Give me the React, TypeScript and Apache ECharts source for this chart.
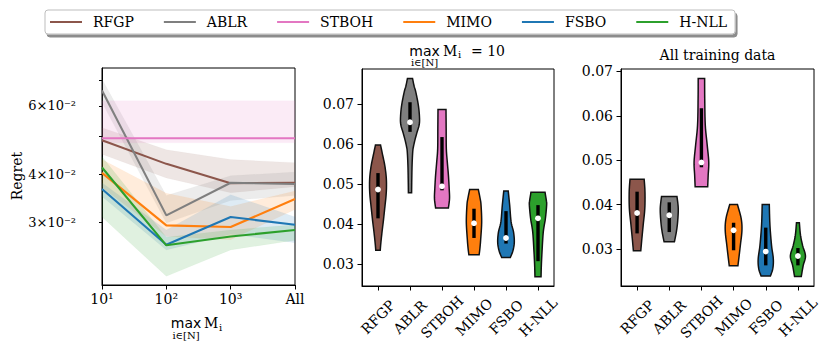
import React, { useEffect, useRef } from 'react';
import * as echarts from 'echarts';

const SERIF = 'DejaVu Serif';
const SANS = 'DejaVu Sans';

const METHODS = ['RFGP', 'ABLR', 'STBOH', 'MIMO', 'FSBO', 'H-NLL'];
const COLORS = ['#8c564b', '#7f7f7f', '#e377c2', '#ff7f0e', '#1f77b4', '#2ca02c'];

// ---------- Left panel: regret vs. max meta-dataset size ----------
const BUDGET_X = [1, 2, 3, 4];
const BUDGET_LABELS = ['10¹', '10²', '10³', 'All'];
const LEFT_Y_RANGE = [0.0207, 0.0751];
const LOG_TICK_VALUES = [0.03, 0.04, 0.05, 0.06, 0.07];
const LOG_LABEL_VALUES = [0.03, 0.04, 0.06];
const LOG_LABELS = ['3×10⁻²', '4×10⁻²', '6×10⁻²'];

const MEAN_RFGP = [0.0489, 0.0425, 0.0379, 0.038];
const LO_RFGP = [0.045, 0.0391, 0.0358, 0.0371];
const HI_RFGP = [0.0527, 0.0462, 0.0436, 0.0428];

const MEAN_ABLR = [0.0657, 0.0313, 0.038, 0.0377];
const LO_ABLR = [0.0612, 0.0299, 0.0342, 0.0352];
const HI_ABLR = [0.0703, 0.0352, 0.0396, 0.0405];

const MEAN_STBOH = [0.0495, 0.0495, 0.0495, 0.0495];
const LO_STBOH = [0.0482, 0.0482, 0.0482, 0.0482];
const HI_STBOH = [0.0618, 0.0618, 0.0618, 0.0618];

const MEAN_MIMO = [0.0403, 0.0295, 0.0292, 0.0345];
const LO_MIMO = [0.037, 0.0276, 0.0271, 0.0324];
const HI_MIMO = [0.0436, 0.0357, 0.033, 0.0362];

const MEAN_FSBO = [0.0366, 0.0263, 0.031, 0.0296];
const LO_FSBO = [0.035, 0.0255, 0.028, 0.0266];
const HI_FSBO = [0.038, 0.0287, 0.0354, 0.031];

const MEAN_HNLL = [0.0416, 0.0262, 0.0276, 0.0287];
const LO_HNLL = [0.031, 0.0218, 0.0255, 0.027];
const HI_HNLL = [0.0444, 0.0275, 0.0287, 0.0296];

const MEANS = [MEAN_RFGP, MEAN_ABLR, MEAN_STBOH, MEAN_MIMO, MEAN_FSBO, MEAN_HNLL];
const LOWS = [LO_RFGP, LO_ABLR, LO_STBOH, LO_MIMO, LO_FSBO, LO_HNLL];
const HIGHS = [HI_RFGP, HI_ABLR, HI_STBOH, HI_MIMO, HI_FSBO, HI_HNLL];

// ---------- Violin panels: [value, half width in category-band units] ----------
const VIOLIN_TICKS = [0.03, 0.04, 0.05, 0.06, 0.07];

// max M_i = 10
const M10_Y_RANGE = [0.0246, 0.0788];
const M10_RFGP = [[0.0598, 0.08], [0.0575, 0.14], [0.0548, 0.21], [0.052, 0.255], [0.0495, 0.265], [0.047, 0.25], [0.044, 0.21], [0.041, 0.17], [0.0377, 0.12], [0.035, 0.085], [0.0335, 0.07]];
const M10_ABLR = [[0.0764, 0.08], [0.0745, 0.13], [0.0731, 0.18], [0.0698, 0.26], [0.067, 0.295], [0.065, 0.29], [0.063, 0.22], [0.0614, 0.165], [0.0595, 0.11], [0.0581, 0.085], [0.0548, 0.065], [0.051, 0.055], [0.0479, 0.05]];
const M10_STBOH = [[0.0687, 0.125], [0.064, 0.13], [0.0589, 0.135], [0.0556, 0.165], [0.0523, 0.2], [0.0489, 0.225], [0.0464, 0.235], [0.0441, 0.2]];
const M10_MIMO = [[0.0487, 0.135], [0.0465, 0.19], [0.0448, 0.22], [0.0406, 0.24], [0.0364, 0.21], [0.034, 0.185], [0.0324, 0.16]];
const M10_FSBO = [[0.0483, 0.07], [0.0448, 0.115], [0.0406, 0.16], [0.0381, 0.235], [0.0356, 0.26], [0.0335, 0.22], [0.0317, 0.135]];
const M10_HNLL = [[0.048, 0.22], [0.046, 0.26], [0.0448, 0.27], [0.0414, 0.23], [0.0381, 0.165], [0.0331, 0.125], [0.0298, 0.105], [0.0269, 0.095]];
// q1, median, q3
const M10_STATS = [[0.0415, 0.0487, 0.0528], [0.0631, 0.0655, 0.0705], [0.0485, 0.0495, 0.0618], [0.0366, 0.0403, 0.0439], [0.0352, 0.0366, 0.0433], [0.0308, 0.0415, 0.0448]];

// All training data
const ALL_Y_RANGE = [0.02165, 0.07054];
const ALL_RFGP = [[0.0457, 0.22], [0.0429, 0.245], [0.0391, 0.24], [0.0354, 0.19], [0.0324, 0.15], [0.0296, 0.115]];
const ALL_ABLR = [[0.0418, 0.24], [0.0391, 0.28], [0.0361, 0.26], [0.0338, 0.22], [0.0316, 0.16]];
const ALL_STBOH = [[0.0684, 0.1], [0.0639, 0.103], [0.0579, 0.12], [0.0534, 0.18], [0.0496, 0.228], [0.0466, 0.21], [0.044, 0.195]];
const ALL_MIMO = [[0.04, 0.12], [0.0369, 0.235], [0.0342, 0.26], [0.0308, 0.21], [0.0262, 0.135]];
const ALL_FSBO = [[0.04, 0.11], [0.0354, 0.13], [0.0308, 0.18], [0.0278, 0.235], [0.0256, 0.22], [0.0239, 0.145]];
const ALL_HNLL = [[0.0359, 0.045], [0.0331, 0.08], [0.0308, 0.145], [0.0284, 0.235], [0.0263, 0.165], [0.0238, 0.105]];
const ALL_STATS = [[0.0335, 0.0381, 0.0429], [0.0338, 0.0376, 0.0405], [0.0484, 0.0495, 0.0617], [0.0297, 0.0342, 0.0359], [0.0263, 0.0294, 0.0348], [0.0263, 0.0284, 0.0302]];

const M10_PROFILES = [M10_RFGP, M10_ABLR, M10_STBOH, M10_MIMO, M10_FSBO, M10_HNLL];
const ALL_PROFILES = [ALL_RFGP, ALL_ABLR, ALL_STBOH, ALL_MIMO, ALL_FSBO, ALL_HNLL];

function smoothSide(pts: number[][], steps = 6): number[][] {
  if (pts.length < 3) return pts;
  const out: number[][] = [];
  for (let i = 0; i < pts.length - 1; i++) {
    const p0 = pts[i - 1] || pts[i];
    const p1 = pts[i];
    const p2 = pts[i + 1];
    const p3 = pts[i + 2] || pts[i + 1];
    for (let s = 0; s < steps; s++) {
      const t = s / steps, t2 = t * t, t3 = t2 * t;
      out.push([0, 1].map(k => 0.5 * (2 * p1[k] + (-p0[k] + p2[k]) * t + (2 * p0[k] - 5 * p1[k] + 4 * p2[k] - p3[k]) * t2 + (-p0[k] + 3 * p1[k] - 3 * p2[k] + p3[k]) * t3)));
    }
  }
  out.push(pts[pts.length - 1]);
  return out;
}

const axisLineStyle = { show: true, lineStyle: { color: '#000', width: 1 } };
const tickFont = { fontFamily: SERIF, fontSize: 14, color: '#000' };

function bandSeries(i: number) {
  return {
    type: 'custom',
    name: '',
    xAxisIndex: 0,
    yAxisIndex: 0,
    silent: true,
    z: 1,
    data: BUDGET_X.map((x, k) => [x, LOWS[i][k], HIGHS[i][k]]),
    encode: { x: 0, y: [1, 2] },
    renderItem: (params: any, api: any) => {
      if (params.dataIndex !== 0) return null;
      const upper = BUDGET_X.map((x, k) => api.coord([x, HIGHS[i][k]]));
      const lower = BUDGET_X.map((x, k) => api.coord([x, LOWS[i][k]])).reverse();
      return {
        type: 'polygon',
        shape: { points: upper.concat(lower) },
        style: { fill: COLORS[i], opacity: 0.15, stroke: COLORS[i], lineWidth: 0.6, strokeOpacity: 0.3 },
      };
    },
  };
}

function lineSeries(i: number) {
  return {
    type: 'line',
    name: METHODS[i],
    xAxisIndex: 0,
    yAxisIndex: 0,
    z: 3,
    showSymbol: false,
    symbol: 'none',
    color: COLORS[i],
    lineStyle: { width: 2.1, color: COLORS[i] },
    data: BUDGET_X.map((x, k) => [x, MEANS[i][k]]),
  };
}

function violinSeries(axisIdx: number, profiles: number[][][], stats: number[][]) {
  return {
    type: 'custom',
    xAxisIndex: axisIdx,
    yAxisIndex: axisIdx + 1,
    silent: true,
    data: METHODS.map((m, i) => [i, stats[i][1]]),
    encode: { x: 0, y: 1 },
    renderItem: (params: any, api: any) => {
      const i = params.dataIndex;
      const band = api.size([1, 0])[0];
      const prof = profiles[i];
      const right = prof.map(([v, hw]) => { const p = api.coord([i, v]); return [p[0] + hw * band, p[1]]; });
      const left = prof.map(([v, hw]) => { const p = api.coord([i, v]); return [p[0] - hw * band, p[1]]; });
      const pts = smoothSide(right).concat(smoothSide(left).reverse());
      const [q1, med, q3] = stats[i];
      const a = api.coord([i, q1]);
      const b = api.coord([i, q3]);
      const m = api.coord([i, med]);
      return {
        type: 'group',
        children: [
          { type: 'polygon', shape: { points: pts }, style: { fill: COLORS[i], stroke: '#111', lineWidth: 1.5 } },
          { type: 'line', shape: { x1: a[0], y1: a[1], x2: b[0], y2: b[1] }, style: { stroke: '#000', lineWidth: 3.4 } },
          { type: 'circle', shape: { cx: m[0], cy: m[1], r: 2.9 }, style: { fill: '#fff' } },
        ],
      };
    },
  };
}

function catAxis(gridIndex: number) {
  return {
    gridIndex,
    type: 'category',
    data: METHODS,
    boundaryGap: true,
    axisLine: axisLineStyle,
    axisTick: { show: true, alignWithLabel: true, length: 4.5, lineStyle: { color: '#000' } },
    axisLabel: { ...tickFont, interval: 0, rotate: 45, align: 'center', verticalAlign: 'middle', margin: 31 },
    splitLine: { show: false },
  };
}

function violinYAxis(gridIndex: number, range: number[]) {
  return {
    gridIndex,
    type: 'value',
    min: range[0],
    max: range[1],
    axisLine: axisLineStyle,
    axisTick: { show: true, length: 4.5, customValues: VIOLIN_TICKS, lineStyle: { color: '#000' } },
    axisLabel: { ...tickFont, customValues: VIOLIN_TICKS, formatter: (v: number) => v.toFixed(2), margin: 8 },
    splitLine: { show: false },
  };
}

export default function App() {
  const ref = useRef<HTMLDivElement>(null);
  useEffect(() => {
    if (!ref.current) return;
    const chart = echarts.init(ref.current, null, { renderer: 'svg' });
    const gridStyle = { show: true, borderColor: '#000', borderWidth: 1, backgroundColor: 'transparent' };
    const option: any = {
      animation: false,
      backgroundColor: '#fff',
      textStyle: { fontFamily: SERIF },
      legend: {
        data: METHODS,
        left: 45,
        top: 10,
        icon: 'rect',
        itemWidth: 32,
        itemHeight: 2,
        itemGap: 30,
        padding: [5, 8, 5, 5],
        backgroundColor: '#fff',
        borderColor: '#bdbdbd',
        borderWidth: 1,
        borderRadius: 3,
        shadowColor: 'rgba(0,0,0,0.45)',
        shadowOffsetX: 2,
        shadowOffsetY: 3,
        shadowBlur: 1,
        textStyle: { fontFamily: SERIF, fontSize: 14, color: '#000', padding: [0, 0, 0, 6] },
        selectedMode: false,
      },
      grid: [
        { left: 102, top: 68, width: 193, height: 217, ...gridStyle },
        { left: 362, top: 69, width: 192, height: 217, ...gridStyle },
        { left: 621, top: 69, width: 193, height: 217, ...gridStyle },
      ],
      xAxis: [
        {
          gridIndex: 0,
          type: 'value',
          min: 1,
          max: 4,
          interval: 1,
          axisLine: axisLineStyle,
          axisTick: { show: true, length: 4.5, lineStyle: { color: '#000' } },
          axisLabel: { ...tickFont, margin: 7, showMinLabel: true, showMaxLabel: true, formatter: (v: number) => BUDGET_LABELS[BUDGET_X.indexOf(v)] || '' },
          splitLine: { show: false },
        },
        catAxis(1),
        catAxis(2),
      ],
      yAxis: [
        { gridIndex: 0, type: 'log', logBase: 10, min: LEFT_Y_RANGE[0], max: LEFT_Y_RANGE[1], show: false },
        {
          gridIndex: 0,
          type: 'value',
          position: 'left',
          min: Math.log10(LEFT_Y_RANGE[0]),
          max: Math.log10(LEFT_Y_RANGE[1]),
          axisLine: axisLineStyle,
          axisTick: { show: true, length: 3, customValues: LOG_TICK_VALUES.map(Math.log10), lineStyle: { color: '#000' } },
          axisLabel: {
            ...tickFont,
            fontSize: 13,
            margin: 26,
            customValues: LOG_LABEL_VALUES.map(Math.log10),
            formatter: (v: number) => {
              const idx = LOG_LABEL_VALUES.findIndex(t => Math.abs(Math.log10(t) - v) < 1e-6);
              return idx >= 0 ? LOG_LABELS[idx] : '';
            },
          },
          splitLine: { show: false },
        },
        violinYAxis(1, M10_Y_RANGE),
        violinYAxis(2, ALL_Y_RANGE),
      ],
      series: [
        ...METHODS.map((m, i) => bandSeries(i)),
        ...METHODS.map((m, i) => lineSeries(i)),
        violinSeries(1, M10_PROFILES, M10_STATS),
        violinSeries(2, ALL_PROFILES, ALL_STATS),
      ],
      graphic: [
        { type: 'text', x: 17, y: 176, rotation: Math.PI / 2, style: { text: 'Regret', font: `14px "${SERIF}"`, fill: '#000', align: 'center', verticalAlign: 'middle' } },
        // left x label: max_{i in [N]} M_i
        { type: 'text', x: 186, y: 323, style: { text: 'max', font: `14px "${SANS}"`, fill: '#000', align: 'center', verticalAlign: 'middle' } },
        { type: 'text', x: 204, y: 323, style: { text: 'M', font: `14px "${SERIF}"`, fill: '#000', align: 'left', verticalAlign: 'middle' } },
        { type: 'text', x: 219, y: 327, style: { text: 'i', font: `10px "${SERIF}"`, fill: '#000', align: 'left', verticalAlign: 'middle' } },
        { type: 'text', x: 186, y: 335, style: { text: 'i∈[N]', font: `10px "${SERIF}"`, fill: '#000', align: 'center', verticalAlign: 'middle' } },
        // middle title
        { type: 'text', x: 424.5, y: 50.5, style: { text: 'max', font: `14px "${SANS}"`, fill: '#000', align: 'center', verticalAlign: 'middle' } },
        { type: 'text', x: 443, y: 50.5, style: { text: 'M', font: `14px "${SERIF}"`, fill: '#000', align: 'left', verticalAlign: 'middle' } },
        { type: 'text', x: 458, y: 54.5, style: { text: 'i', font: `10px "${SERIF}"`, fill: '#000', align: 'left', verticalAlign: 'middle' } },
        { type: 'text', x: 471, y: 50.5, style: { text: '= 10', font: `14px "${SERIF}"`, fill: '#000', align: 'left', verticalAlign: 'middle' } },
        { type: 'text', x: 424.5, y: 62.5, style: { text: 'i∈[N]', font: `10px "${SERIF}"`, fill: '#000', align: 'center', verticalAlign: 'middle' } },
        // right title
        { type: 'text', x: 717.5, y: 55, style: { text: 'All training data', font: `14px "${SERIF}"`, fill: '#000', align: 'center', verticalAlign: 'middle' } },
      ],
    };
    chart.setOption(option);
    return () => chart.dispose();
  }, []);
  return <div ref={ref} style={{ position: 'absolute', left: 0, top: 0, width: 831, height: 357 }} />;
}
